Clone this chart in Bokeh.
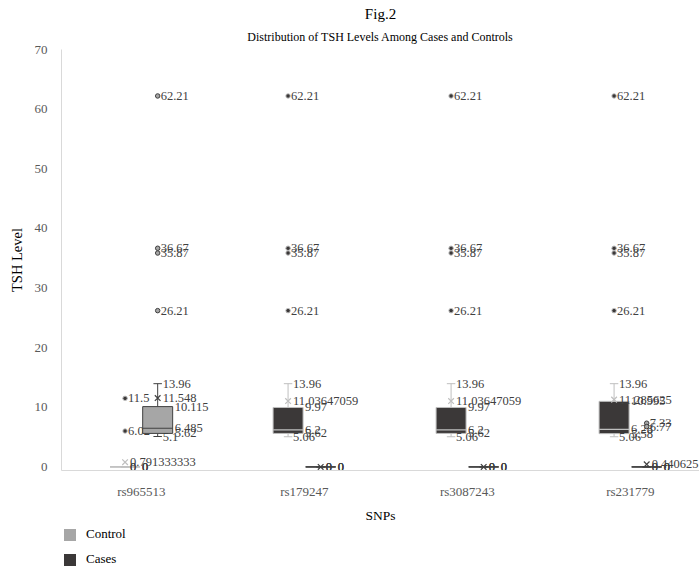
from bokeh.plotting import figure
from bokeh.layouts import column
from bokeh.models import (ColumnDataSource, Range1d, FixedTicker, Title, Legend, LegendItem)
from bokeh.embed import file_html
from bokeh.resources import INLINE
from bokeh.core.properties import value

# ---------------- data ----------------
snps = ["rs965513", "rs179247", "rs3087243", "rs231779"]

# Cases series (left box of each SNP)
cases_min = [0, 5.06, 5.06, 5.06]
cases_q1 = [0, 5.62, 5.62, 5.58]
cases_median = [0, 6.2, 6.2, 6.28]
cases_q3 = [0, 9.97, 9.97, 10.995]
cases_max = [0, 13.96, 13.96, 13.96]
cases_mean = [0.791333333, 11.03647059, 11.03647059, 11.285625]
cases_outliers = [[11.5, 6.02],
                  [26.21, 35.87, 36.67, 62.21],
                  [26.21, 35.87, 36.67, 62.21],
                  [26.21, 35.87, 36.67, 62.21]]

# Control series (right box of each SNP)
control_min = [5.1, 0, 0, 0]
control_q1 = [5.62, 0, 0, 0]
control_median = [6.485, 0, 0, 0]
control_q3 = [10.115, 0, 0, 0]
control_max = [13.96, 0, 0, 0]
control_mean = [11.548, 0, 0, 0.440625]
control_outliers = [[26.21, 35.87, 36.67, 62.21], [], [], [7.33, 6.77]]

legend_labels = ["Control", "Cases"]
y_ticks = [0, 10, 20, 30, 40, 50, 60, 70]

# ---------------- styles ----------------
FONT = "Liberation Serif"
LABEL_COLOR = "#404040"
CONTROL_FILL, CONTROL_LINE = "#a6a6a6", "#404040"
CASES_FILL, CASES_LINE = "#3b3838", "#bfbfbf"
HALF_W = 0.092   # half box width (category units)
CAP_HW = 0.026   # half whisker-cap width
NAN = float("nan")

p = figure(width=699, height=525, output_backend="svg", toolbar_location=None,
           x_range=Range1d(-0.49, 3.424), y_range=Range1d(-0.6, 70),
           min_border_left=61, min_border_right=0, min_border_top=49,
           min_border_bottom=45)
p.grid.visible = False
p.outline_line_color = None


def fmt(v):
    return "%.10g" % v


def draw_series(offset, mins, q1s, meds, q3s, maxs, means, outs, fill, line):
    n = len(snps)
    xs = [i + offset for i in range(n)]
    src = ColumnDataSource(dict(
        x=xs,
        left=[x - HALF_W for x in xs], right=[x + HALF_W for x in xs],
        cl=[x - CAP_HW for x in xs], cr=[x + CAP_HW for x in xs],
        mn=mins, q1=q1s, med=meds, q3=q3s, mx=maxs, mean=means))
    # whiskers
    p.segment(x0="x", y0="q3", x1="x", y1="mx", source=src, line_color=line, line_width=1)
    p.segment(x0="x", y0="q1", x1="x", y1="mn", source=src, line_color=line, line_width=1)
    p.segment(x0="cl", y0="mx", x1="cr", y1="mx", source=src, line_color=line, line_width=1)
    p.segment(x0="cl", y0="mn", x1="cr", y1="mn", source=src, line_color=line, line_width=1)
    # box
    p.quad(left="left", right="right", bottom="q1", top="q3", source=src,
           fill_color=fill, line_color=line, line_width=1)
    p.segment(x0="left", y0="med", x1="right", y1="med", source=src,
              line_color=line, line_width=1.2)
    # mean
    p.scatter(x="x", y="mean", source=src, marker="x", size=8,
              line_color=line, line_width=1.2)
    # outliers
    ox, oy = [], []
    for i, vals in enumerate(outs):
        for v in vals:
            ox.append(xs[i])
            oy.append(v)
    osrc = ColumnDataSource(dict(x=ox, y=oy, t=[fmt(v) for v in oy]))
    p.scatter(x="x", y="y", source=osrc, marker="circle", size=4.5,
              fill_color=fill, line_color=line, line_width=1)

    # data labels
    def lab(src_, xoff):
        p.text(x="x", y="y", text="t", source=src_, x_offset=xoff,
               text_font=value(FONT), text_font_size="12.5px",
               text_color=LABEL_COLOR, text_baseline="middle", text_align="left")

    lab(osrc, 3)
    wv = list(maxs) + list(mins) + list(means)
    lab(ColumnDataSource(dict(x=xs * 3, y=wv, t=[fmt(v) for v in wv])), 5)
    qv = list(q3s) + list(meds) + list(q1s)
    lab(ColumnDataSource(dict(x=xs * 3, y=qv, t=[fmt(v) for v in qv])), 17)


draw_series(-0.1, cases_min, cases_q1, cases_median, cases_q3, cases_max,
            cases_mean, cases_outliers, CASES_FILL, CASES_LINE)
draw_series(0.1, control_min, control_q1, control_median, control_q3,
            control_max, control_mean, control_outliers, CONTROL_FILL, CONTROL_LINE)

# axes
p.xaxis.ticker = FixedTicker(ticks=list(range(len(snps))))
p.xaxis.major_label_overrides = {i: s for i, s in enumerate(snps)}
p.yaxis.ticker = FixedTicker(ticks=y_ticks)
for ax in (p.xaxis, p.yaxis):
    ax.axis_line_color = "#d9d9d9"
    ax.major_tick_line_color = None
    ax.minor_tick_line_color = None
    ax.major_label_text_font = FONT
    ax.major_label_text_font_size = "13px"
    ax.major_label_text_color = "#595959"
    ax.axis_label_text_font = FONT
    ax.axis_label_text_font_style = "normal"
    ax.axis_label_text_color = "black"
p.xaxis.axis_label = "SNPs"
p.yaxis.axis_label = "TSH Level"
p.xaxis.axis_label_text_font_size = "13.5px"
p.yaxis.axis_label_text_font_size = "14.5px"
p.xaxis.major_label_standoff = 7
p.xaxis.axis_label_standoff = 6
p.yaxis.major_label_standoff = 8
p.yaxis.axis_label_standoff = 7

p.add_layout(Title(text="Distribution of TSH Levels Among Cases and Controls", align="center",
                   text_font=FONT, text_font_size="12px", text_font_style="normal",
                   text_color="black", standoff=12), "above")
p.add_layout(Title(text="Fig.2", align="center", text_font=FONT, text_font_size="15px",
                   text_font_style="normal", text_color="black", standoff=0), "above")

# ---------------- legend strip below the chart ----------------
lg = figure(width=699, height=43, output_backend="svg", toolbar_location=None,
            x_axis_type=None, y_axis_type=None, min_border=0,
            x_range=Range1d(0, 1), y_range=Range1d(0, 1))
lg.grid.visible = False
lg.outline_line_color = None
r_control = lg.quad(left=[NAN], right=[NAN], top=[NAN], bottom=[NAN],
                    fill_color=CONTROL_FILL, line_color=None)
r_cases = lg.quad(left=[NAN], right=[NAN], top=[NAN], bottom=[NAN],
                  fill_color=CASES_FILL, line_color=None)
legend = Legend(items=[LegendItem(label=legend_labels[0], renderers=[r_control]),
                       LegendItem(label=legend_labels[1], renderers=[r_cases])],
                location=(1, 1), orientation="vertical",
                glyph_width=15, glyph_height=15, label_height=15, spacing=9,
                padding=0, margin=0, label_standoff=9,
                border_line_color=None, background_fill_alpha=0,
                label_text_font=FONT, label_text_font_size="13px",
                label_text_color="black")
lg.add_layout(legend)

layout = column(p, lg, spacing=0)
open("out.html", "w").write(file_html(layout, INLINE))
